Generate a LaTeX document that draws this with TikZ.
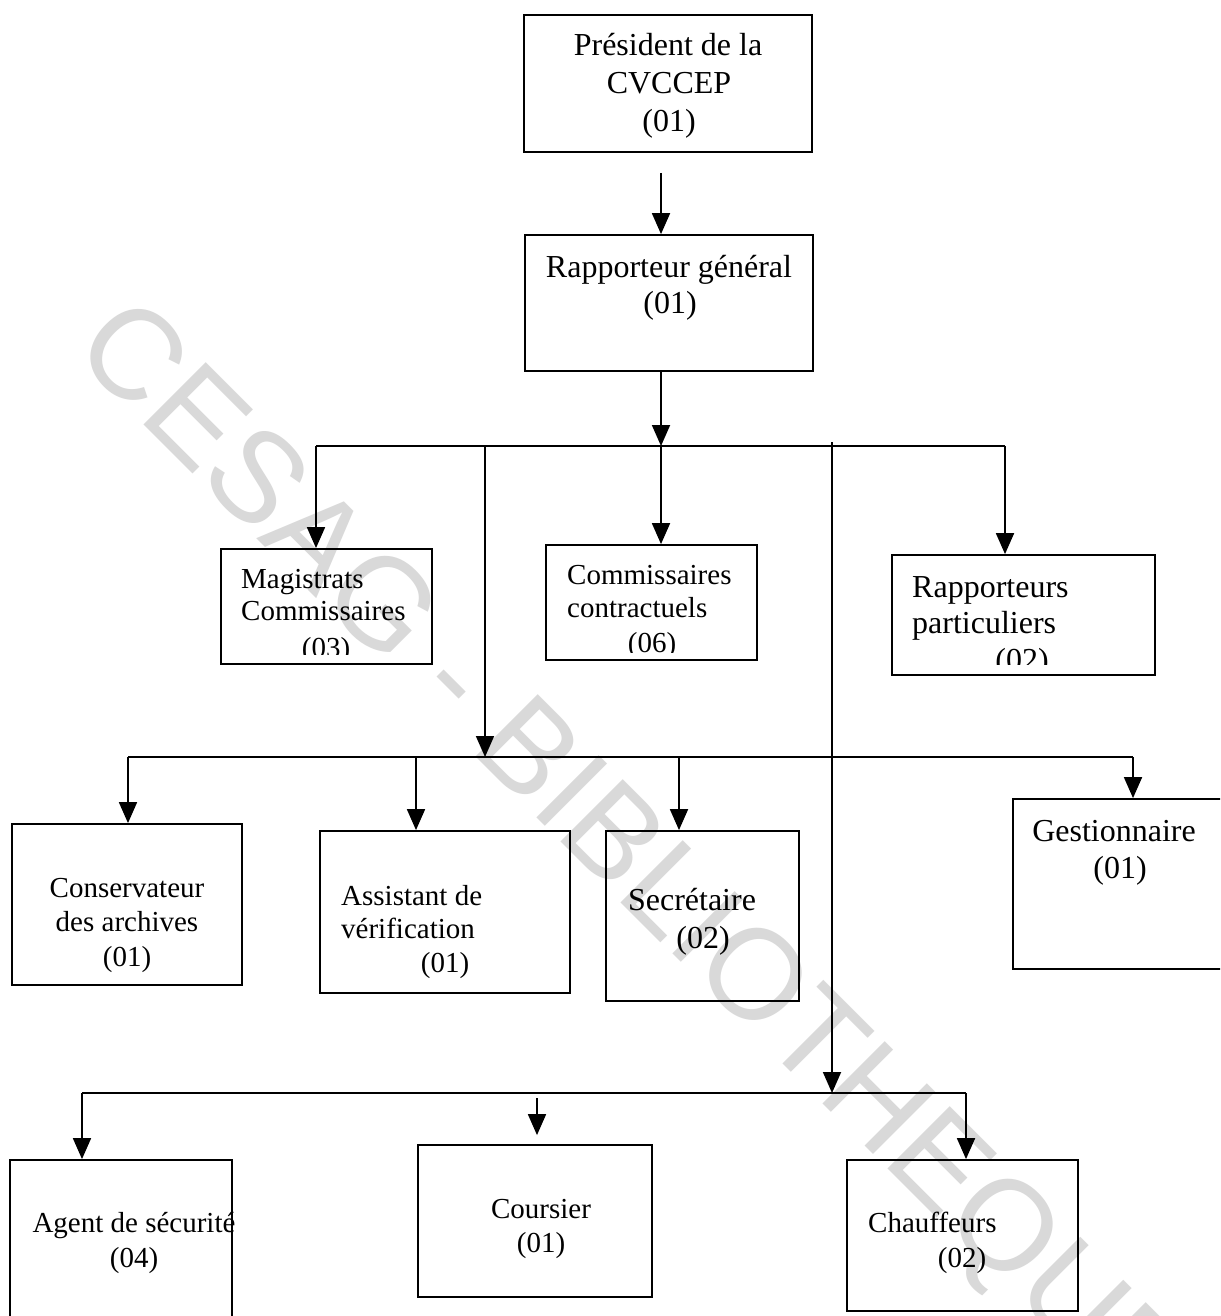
\documentclass[tikz,border=0pt]{standalone}
\usepackage{fontspec}
\setmainfont{Liberation Serif}
\newfontfamily\wmfont{Liberation Sans}
\usetikzlibrary{arrows.meta,calc}
\tikzset{
  box/.style={draw, line width=1.8pt, inner sep=0pt},
  wire/.style={line width=1.8pt},
  arr/.style={line width=1.8pt, -{Triangle[length=21pt,width=18pt]}},
  bigC/.style={font=\fontsize{32}{37}\selectfont, anchor=base, inner sep=0pt},
  bigL/.style={font=\fontsize{32}{37}\selectfont, anchor=base west, inner sep=0pt},
  smC/.style={font=\fontsize{29}{34}\selectfont, anchor=base, inner sep=0pt},
  smL/.style={font=\fontsize{29}{34}\selectfont, anchor=base west, inner sep=0pt},
  wm/.style={font=\wmfont\fontsize{128}{128}\selectfont, text=black!15, inner sep=0pt}
}
\begin{document}
\begin{tikzpicture}[x=1pt,y=-1pt]
\clip (0,0) rectangle (1220,1316);
\fill[white] (0,0) rectangle (1220,1316);
% watermark
\node[wm, rotate=-45] (wmark) at (627,862) {CESAG - BIBLIOTHEQUE};

% boxes
\node[box, minimum width=288pt, minimum height=137pt] (pres) at (668,83.5) {};
\node[box, minimum width=288pt, minimum height=136pt] (rap) at (669,303) {};
\node[box, minimum width=211pt, minimum height=115pt] (mag) at (326.5,606.5) {};
\node[box, minimum width=211pt, minimum height=115pt] (com) at (651.5,602.5) {};
\node[box, minimum width=263pt, minimum height=120pt] (rp) at (1023.5,615) {};
\node[box, minimum width=230pt, minimum height=161pt] (cons) at (127,904.5) {};
\node[box, minimum width=250pt, minimum height=162pt] (asst) at (445,912) {};
\node[box, minimum width=193pt, minimum height=170pt] (secr) at (702.5,916) {};
\node[box, minimum width=227pt, minimum height=170pt] (gest) at (1126.5,884) {};
\node[box, minimum width=222pt, minimum height=180pt] (agent) at (121,1250) {};
\node[box, minimum width=234pt, minimum height=152pt] (cour) at (535,1221) {};
\node[box, minimum width=231pt, minimum height=151pt] (chauf) at (962.5,1235.5) {};

% labels
\node[bigC] (t-pres1) at (668,56) {Président de la};
\node[bigC] (t-pres2) at (669,94) {CVCCEP};
\node[bigC] (t-pres3) at (669,132) {(01)};
\node[bigC] (t-rap1) at (669,277) {Rapporteur général};
\node[bigC] (t-rap2) at (670,313) {(01)};
\node[smL] (t-mag1) at (241,588) {Magistrats};
\node[smL] (t-mag2) at (241,620) {Commissaires};
\node[smL] (t-com1) at (567,584) {Commissaires};
\node[smL] (t-com2) at (567,617) {contractuels};
\node[bigL] (t-rp1) at (912,597) {Rapporteurs};
\node[bigL] (t-rp2) at (912,633) {particuliers};
\begin{scope}
  \clip (mag.north west) rectangle ([yshift=10pt]mag.south east);
  \node[smC] (t-mag3) at (326,657) {(03)};
\end{scope}
\begin{scope}
  \clip (com.north west) rectangle ([yshift=8pt]com.south east);
  \node[smC] (t-com3) at (652,652) {(06)};
\end{scope}
\begin{scope}
  \clip (rp.north west) rectangle ([yshift=11pt]rp.south east);
  \node[bigC] (t-rp3) at (1022,670) {(02)};
\end{scope}
\node[smC] (t-cons1) at (127,897) {Conservateur};
\node[smC] (t-cons2) at (127,931) {des archives};
\node[smC] (t-cons3) at (127,966) {(01)};
\node[smL] (t-asst1) at (341,905) {Assistant de};
\node[smL] (t-asst2) at (341,938) {vérification};
\node[smC] (t-asst3) at (445,972) {(01)};
\node[bigC] (t-secr1) at (692,910) {Secrétaire};
\node[bigC] (t-secr2) at (703,948) {(02)};
\node[bigC] (t-gest1) at (1114,841) {Gestionnaire};
\node[bigC] (t-gest2) at (1120,878) {(01)};
\node[smC] (t-agent1) at (134,1232) {Agent de sécurité};
\node[smC] (t-agent2) at (134,1267) {(04)};
\node[smC] (t-cour1) at (541,1218) {Coursier};
\node[smC] (t-cour2) at (541,1252) {(01)};
\node[smL] (t-chauf1) at (868,1232) {Chauffeurs};
\node[smC] (t-chauf2) at (962,1267) {(02)};

% bus coordinates
\coordinate (b1) at (661,446);
\coordinate (b1L) at (316,446);
\coordinate (b1R) at (1005,446);
\coordinate (b2) at (485,757);
\coordinate (b2L) at (128,757);
\coordinate (b2a) at (416,757);
\coordinate (b2b) at (679,757);
\coordinate (b2R) at (1133,757);
\coordinate (b3) at (832,1093);
\coordinate (b3L) at (82,1093);
\coordinate (b3R) at (966,1093);
\coordinate (b3c) at (537,1098);

% connectors
\draw[arr] ($(pres.south -| b1)+(0,20)$) -- (rap.north -| b1);
\draw[arr] (rap.south -| b1) -- (b1);
\draw[wire] (b1L) -- (b1R);
\draw[arr] (b1L) -- (mag.north -| b1L);
\draw[arr] (b1) -- (com.north -| b1);
\draw[arr] (b1R) -- (rp.north -| b1R);

\draw[arr] (b2 |- b1) -- (b2);
\draw[wire] (b2L) -- (b2R);
\draw[arr] (b2L) -- (cons.north -| b2L);
\draw[arr] (b2a) -- (asst.north -| b2a);
\draw[arr] (b2b) -- (secr.north -| b2b);
\draw[arr] (b2R) -- (gest.north -| b2R);

\draw[arr] ($(b3 |- b1)+(0,-4)$) -- (b3);
\draw[wire] (b3L) -- (b3R);
\draw[arr] (b3L) -- (agent.north -| b3L);
\draw[arr] (b3R) -- (chauf.north -| b3R);
\draw[arr] (b3c) -- ($(cour.north -| b3c)+(0,-9)$);
\end{tikzpicture}
\end{document}
